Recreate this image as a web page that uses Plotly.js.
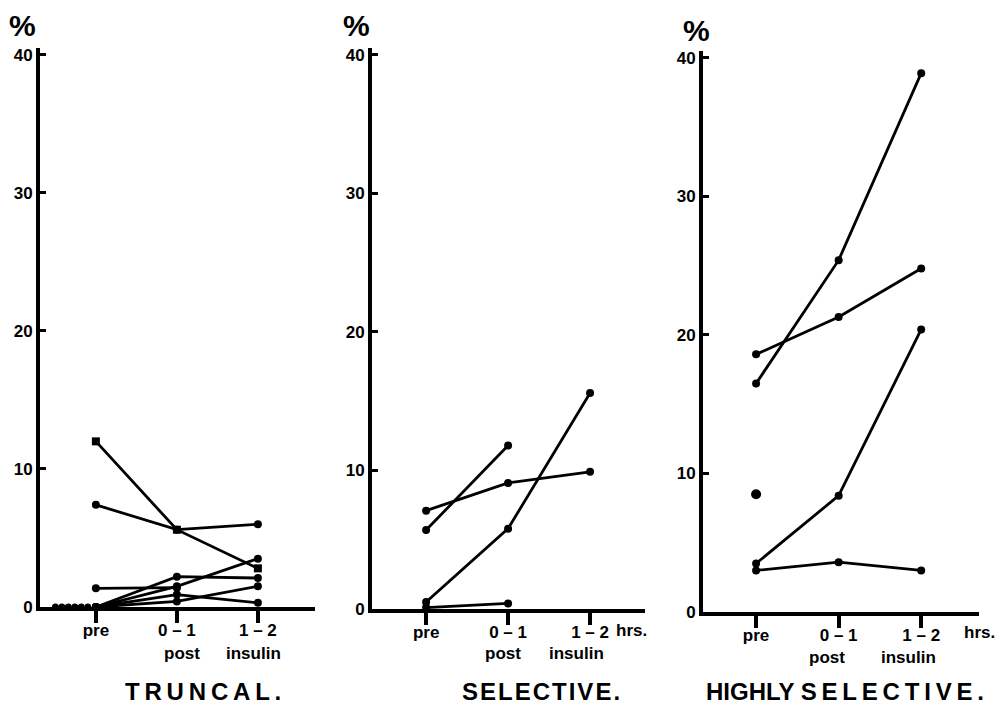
<!DOCTYPE html>
<html>
<head>
<meta charset="utf-8">
<script src="https://cdn.plot.ly/plotly-3.0.1.min.js"></script>
<style>html,body{margin:0;padding:0;background:#fff}#chart{width:1001px;height:712px}</style>
</head>
<body>
<div id="chart"></div>
<script>
// ---- data ----
const timeX = [1, 2, 3];
const timeLabels = ["pre", "0 \u2013 1", "1 \u2013 2"];
const yTicks = [0, 10, 20, 30, 40];

// TRUNCAL: one entry per patient line
const truncalPre = [12, 7.4, 1.35, 0, 0, 0, 0];
const truncal01  = [5.6, 5.6, 1.4, 1.5, 2.2, 0.9, 0.4];
const truncal12  = [2.8, 6.0, null, 3.5, 2.1, 0.3, 1.5];
const truncalSquare = [true, false, false, false, false, false, false];
// patients with zero "pre" value only, drawn in a row on the axis
const truncalZeroX = [0.5, 0.58, 0.66, 0.74, 0.82, 0.9];
const truncalZeroY = [0, 0, 0, 0, 0, 0];

// SELECTIVE
const selPre = [7.1, 5.7, 0.5, 0.1];
const sel01  = [9.1, 11.8, 5.8, 0.4];
const sel12  = [9.9, null, 15.6, null];

// HIGHLY SELECTIVE
const hsPre = [18.6, 16.5, 8.5, 3.5, 3.0];
const hs01  = [21.3, 25.4, null, 8.4, 3.6];
const hs12  = [24.8, 38.9, null, 20.4, 3.0];

// ---- helpers ----
const W = 1001, H = 712;
const fx = p => p / W;
const fy = p => (H - p) / H;
const FONT = "Liberation Sans, Arial, sans-serif";

function groupTraces(pre, t1, t2, xa, ya, squares) {
  const out = [];
  for (let i = 0; i < pre.length; i++) {
    const ys = [pre[i], t1[i], t2[i]];
    const xs = [], yy = [];
    ys.forEach((v, k) => { if (v !== null) { xs.push(timeX[k]); yy.push(v); } });
    const sym = squares && squares[i] ? "square" : "circle";
    out.push({
      x: xs, y: yy, xaxis: xa, yaxis: ya, type: "scatter",
      mode: "lines+markers", cliponaxis: false, showlegend: false,
      line: {color: "#000", width: 2.8},
      marker: {color: "#000", size: 8, symbol: sym}
    });
  }
  return out;
}

let traces = [];
traces = traces.concat(groupTraces(truncalPre, truncal01, truncal12, "x", "y", truncalSquare));
traces.push({
  x: truncalZeroX, y: truncalZeroY, xaxis: "x", yaxis: "y", type: "scatter",
  mode: "markers", cliponaxis: false, showlegend: false,
  marker: {color: "#000", size: 7}
});
traces = traces.concat(groupTraces(selPre, sel01, sel12, "x2", "y2", null));
traces = traces.concat(groupTraces(hsPre, hs01, hs12, "x3", "y3", null));
traces.forEach(t => { if (t.x.length === 1) t.marker.size = 10; });

function xAxis(domain, range, yref) {
  return {
    domain: domain, range: range, anchor: yref,
    tickvals: timeX, ticktext: timeLabels,
    ticks: "outside", ticklen: 12, tickwidth: 4, tickcolor: "#000",
    ticklabelstandoff: -7,
    showline: true, linewidth: 4, linecolor: "#000",
    showgrid: false, zeroline: false, fixedrange: true,
    tickfont: {family: FONT, size: 17, color: "#000", weight: 700}
  };
}
function yAxis(domain, xref) {
  return {
    domain: domain, range: [0, 40.5], anchor: xref,
    tickvals: yTicks, ticks: "inside", ticklen: 6, tickwidth: 3, tickcolor: "#000",
    showline: true, linewidth: 4, linecolor: "#000",
    showgrid: false, zeroline: false, fixedrange: true,
    tickfont: {family: FONT, size: 17, color: "#000", weight: 700}
  };
}

function ann(text, x, y, size, xref) {
  return {
    text: text, x: x, y: y, xref: xref || "paper", yref: "paper",
    showarrow: false, xanchor: "center", yanchor: "middle",
    font: {family: FONT, size: size, color: "#000", weight: 700}
  };
}

const TS = "\u2009", HS = "\u200A";
const annotations = [
  ann("%", fx(22), fy(25), 30),
  ann("%", fx(356), fy(25), 30),
  ann("%", fx(696), fy(30), 30),
  ann("hours", 3.72, fy(630), 17, "x"),
  ann("hrs.", 3.5, fy(630), 17, "x2"),
  ann("hrs.", 3.7, fy(632), 17, "x3"),
  ann("post", 2.06, fy(653), 17, "x"),
  ann("insulin", 2.94, fy(653), 17, "x"),
  ann("post", 1.94, fy(653), 17, "x2"),
  ann("insulin", 2.83, fy(653), 17, "x2"),
  ann("post", 1.86, fy(657), 17, "x3"),
  ann("insulin", 2.84, fy(657), 17, "x3"),
  ann("TRUNCAL.".split("").join(TS), fx(203), fy(691), 24),
  ann("SELECTIVE.".split("").join(HS), fx(541), fy(691), 24),
  ann("HIGHLY " + "SELECTIVE.".split("").join(TS), fx(845), fy(691), 24)
];

const layout = {
  width: W, height: H,
  margin: {l: 0, r: 0, t: 0, b: 0},
  paper_bgcolor: "#fff", plot_bgcolor: "rgba(0,0,0,0)",
  showlegend: false,
  xaxis:  xAxis([fx(40), fx(315)], [0.31, 3.705], "y"),
  yaxis:  yAxis([fy(607), fy(48)], "x"),
  xaxis2: xAxis([fx(372), fx(645)], [0.34, 3.67], "y2"),
  yaxis2: yAxis([fy(609), fy(48)], "x2"),
  xaxis3: xAxis([fx(703), fx(979)], [0.357, 3.70], "y3"),
  yaxis3: yAxis([fy(612), fy(51)], "x3"),
  annotations: annotations
};

Plotly.newPlot("chart", traces, layout, {staticPlot: true, displayModeBar: false});
</script>
</body>
</html>
